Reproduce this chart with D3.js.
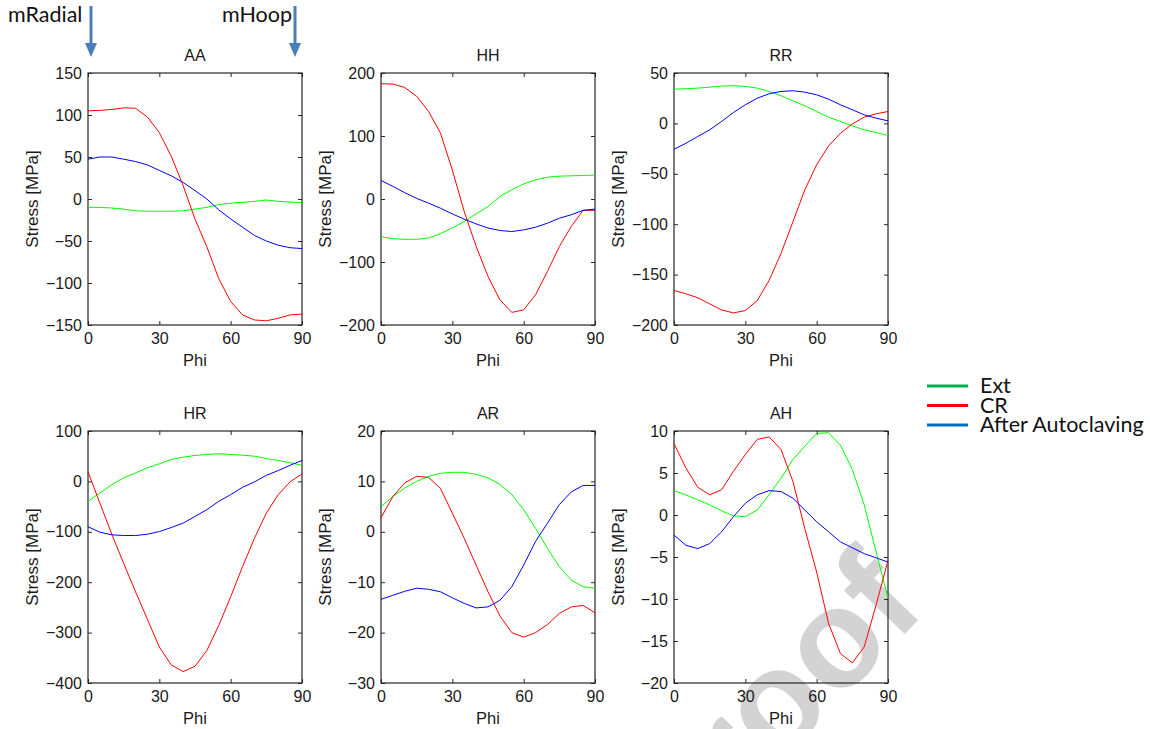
<!DOCTYPE html>
<html>
<head>
<meta charset="utf-8">
<script src="https://cdn.jsdelivr.net/npm/d3@7"></script>
<style>
body { margin: 0; background: #fff; }
svg text { font-family: "Liberation Sans", Arial, sans-serif; }
</style>
</head>
<body>
<svg width="1150" height="729"></svg>
<script>
// phi angles, every 5 degrees
var phi = [0, 5, 10, 15, 20, 25, 30, 35, 40, 45, 50, 55, 60, 65, 70, 75, 80, 85, 90];

var titles = ["AA", "HH", "RR", "HR", "AR", "AH"];
var yDomains = [[-150, 150], [-200, 200], [-200, 50], [-400, 100], [-30, 20], [-20, 10]];
var yTickSteps = [50, 100, 50, 100, 10, 5];
var xTicks = [0, 30, 60, 90];

var seriesNames = ["Ext", "CR", "After Autoclaving"];

// Ext (green)
var extVals = [
  [-10, -10, -10.7, -12, -14, -14.6, -14.6, -14.6, -14, -12, -10, -6.7, -5, -4, -2.8, -1.2, -2.8, -3.6, -4.4],
  [-60, -63, -64, -64, -62, -55, -46, -36, -23.6, -12, 4, 14.6, 24, 30.5, 34.7, 36.3, 36.8, 37.3, 38],
  [34, 34.4, 35, 36, 37, 37.4, 36.7, 35, 31.7, 27.4, 22.4, 17.5, 11.8, 6.2, 1.9, -2.5, -6.4, -9, -12],
  [-39.6, -23, -6.4, 7, 17, 27, 35, 43.5, 48, 51.5, 53.5, 54.8, 53.5, 52, 50, 45.5, 41.5, 37, 32],
  [5, 7, 8.7, 10, 11, 11.6, 11.8, 11.8, 11.4, 10.7, 9.4, 7.4, 4.4, 0.7, -3.3, -6.9, -9.6, -10.9, -11.2],
  [2.9, 2.4, 1.8, 1.2, 0.5, -0.1, -0.2, 0.6, 2.4, 4.4, 6.6, 8.2, 9.7, 9.8, 8.3, 5.4, 1.2, -4.4, -9.9]
];

// CR (red)
var crVals = [
  [105, 105.5, 106.6, 108.5, 108, 97.5, 79, 51, 16, -24, -57, -95, -122, -138, -144, -145, -142, -138, -137],
  [183, 182.5, 177, 163, 139, 104.6, 46, -20, -75, -123, -160, -180, -176, -152, -115, -75.5, -43.7, -18, -18],
  [-165.8, -169, -173, -179, -185, -188, -185.7, -175.8, -155.8, -129, -97.7, -66, -41, -22.4, -9.8, -0.5, 6.2, 9.5, 11.8],
  [18.9, -43, -104.8, -162.6, -219, -273.7, -328.8, -364, -377.4, -366.8, -335.5, -285.6, -229, -169, -112.8, -62.9, -26.3, -1, 15],
  [2.8, 7, 9.7, 11, 10.8, 8.6, 3.7, -1.3, -6.6, -11.9, -16.7, -20, -20.9, -20, -18.4, -16.2, -14.9, -14.6, -16.1],
  [8.5, 5.6, 3.3, 2.4, 3, 5.2, 7.2, 9, 9.3, 7.8, 4, -1.6, -6.8, -12.9, -16.5, -17.6, -15.7, -10.7, -5.4]
];

// After Autoclaving (blue)
var afterVals = [
  [47.4, 50, 50, 47.4, 44.6, 40.6, 34, 27.6, 19.7, 10, 0, -13, -23.7, -33.6, -43.4, -50, -55, -58, -59],
  [29.4, 20, 10, 1, -6.6, -14.6, -23.6, -32, -39.5, -46, -50, -51.6, -49, -44.8, -38.4, -30.5, -25, -18, -16],
  [-25.7, -19.7, -13, -6.4, 1.9, 10.8, 18.5, 25, 29.4, 31.7, 32.4, 31, 28.4, 24, 18.5, 13.5, 8.5, 5.2, 2.5],
  [-90, -100.8, -106, -107.4, -107.4, -104.8, -99.5, -91.5, -82.8, -69.5, -56, -39.6, -26.3, -11.7, -1, 12, 21.5, 32, 41.5],
  [-13.4, -12.6, -11.8, -11.2, -11.4, -11.9, -13.1, -14.2, -15.1, -14.9, -13.6, -10.9, -6.6, -1.9, 1.7, 5.4, 7.9, 9.2, 9.2],
  [-2.4, -3.6, -4, -3.4, -2, -0.2, 1.4, 2.4, 2.9, 2.8, 2, 0.6, -0.8, -2, -3.2, -3.9, -4.6, -5.1, -5.6]
];

var lineColors = ["#00ff00", "#ff0000", "#0000ff"];
var legendColors = ["#00b050", "#ff0000", "#0070c0"];

var svg = d3.select("svg");

// watermark behind everything
svg.append("text")
  .attr("transform", "translate(928,610) rotate(-46)")
  .attr("text-anchor", "end")
  .style("font-size", "140px")
  .style("font-weight", "bold")
  .attr("fill", "#d3d3d3")
  .text("Pre-proof");

var colLeft = [88, 381, 674],
  rowTop = [73, 431],
  pw = 214,
  ph = 252;

titles.forEach(function(title, i) {
  var col = i % 3, row = Math.floor(i / 3);
  var g = svg.append("g")
    .attr("transform", "translate(" + colLeft[col] + "," + rowTop[row] + ")");

  var x = d3.scaleLinear().domain([0, 90]).range([0, pw]);
  var y = d3.scaleLinear().domain(yDomains[i]).range([ph, 0]);
  var yTicks = d3.range(yDomains[i][0], yDomains[i][1] + 0.001, yTickSteps[i]);

  // ticks pointing inward, mirrored on top and right
  var axes = [
    d3.axisLeft(y).tickValues(yTicks).tickFormat(d3.format("d")),
    d3.axisRight(y).tickValues(yTicks).tickFormat(""),
    d3.axisBottom(x).tickValues(xTicks).tickFormat(d3.format("d")),
    d3.axisTop(x).tickValues(xTicks).tickFormat("")
  ];
  var pos = ["translate(0,0)", "translate(" + pw + ",0)", "translate(0," + ph + ")", "translate(0,0)"];
  axes.forEach(function(a, k) {
    var ag = g.append("g")
      .attr("transform", pos[k])
      .call(a.tickSizeInner(-4).tickSizeOuter(0).tickPadding(k == 0 ? 6 : 8));
    ag.select(".domain").remove();
    ag.selectAll("line").attr("stroke", "#262626");
    ag.selectAll("text").attr("fill", "#1a1a1a").style("font-size", "16px")
      .style("font-family", "'Liberation Sans', Arial, sans-serif");
  });

  g.append("rect")
    .attr("width", pw).attr("height", ph)
    .attr("fill", "none").attr("stroke", "#262626").attr("stroke-width", 1.2);

  var line = d3.line()
    .x(function(d, j) { return x(phi[j]); })
    .y(function(d) { return y(d); });

  [extVals[i], crVals[i], afterVals[i]].forEach(function(vals, s) {
    g.append("path")
      .datum(vals)
      .attr("fill", "none")
      .attr("stroke", lineColors[s])
      .attr("stroke-width", 1)
      .attr("d", line);
  });

  g.append("text")
    .attr("x", pw / 2).attr("y", -12)
    .attr("text-anchor", "middle")
    .style("font-size", "16px").attr("fill", "#1a1a1a")
    .text(title);

  g.append("text")
    .attr("x", pw / 2).attr("y", ph + 41)
    .attr("text-anchor", "middle")
    .style("font-size", "16.5px").attr("fill", "#1a1a1a")
    .text("Phi");

  g.append("text")
    .attr("transform", "translate(-50," + (ph / 2) + ") rotate(-90)")
    .attr("text-anchor", "middle")
    .style("font-size", "17px").attr("fill", "#1a1a1a")
    .text("Stress [MPa]");
});

// legend
var legend = svg.append("g").attr("transform", "translate(927,386)");
seriesNames.forEach(function(name, s) {
  legend.append("line")
    .attr("x1", 0).attr("x2", 41)
    .attr("y1", s * 19.5).attr("y2", s * 19.5)
    .attr("stroke", legendColors[s]).attr("stroke-width", 3);
  legend.append("text")
    .attr("x", 53).attr("y", s * 19.5 + 7)
    .style("font-family", "Lato, 'Open Sans', sans-serif")
    .style("font-size", "21.5px").attr("fill", "#111")
    .text(name);
});

// arrows for mRadial and mHoop
var arrowColor = "#4a7ebb";
[["mRadial", 91, 8], ["mHoop", 295, 222]].forEach(function(a) {
  svg.append("text")
    .attr("x", a[2]).attr("y", 22)
    .style("font-family", "Lato, 'Open Sans', sans-serif")
    .style("font-size", "21.5px").attr("fill", "#111")
    .text(a[0]);
  svg.append("line")
    .attr("x1", a[1]).attr("x2", a[1])
    .attr("y1", 6).attr("y2", 46)
    .attr("stroke", arrowColor).attr("stroke-width", 3);
  svg.append("path")
    .attr("d", "M" + (a[1] - 6) + ",43L" + (a[1] + 6) + ",43L" + a[1] + ",57Z")
    .attr("fill", arrowColor);
});
</script>
</body>
</html>
